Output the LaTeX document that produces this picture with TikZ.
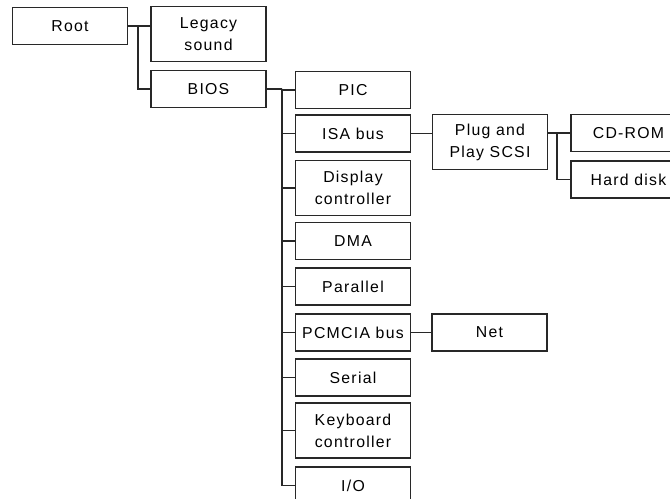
\documentclass[tikz,border=0pt]{standalone}
\usepackage{fontspec}
\usepackage{tikz}
\usetikzlibrary{calc}
\newfontfamily\cajafont[LetterSpace=8]{Liberation Sans}
\definecolor{GrisBorde}{RGB}{40,40,40}

\begin{document}
\begin{tikzpicture}[x=0.02cm,y=-0.02cm,
  caja/.style={draw=GrisBorde,line width=0.8pt,fill=white,minimum width=2.3cm,
    minimum height=0.74cm,inner sep=1pt,align=center,
    font=\cajafont\fontsize{9}{12.5}\selectfont},
  caja2/.style={caja,minimum height=1.1cm},
  linea/.style={draw=GrisBorde,line width=0.8pt}]
  \clip (0,0) rectangle (670,499);

  \node[caja] (root) at (70,26) {Root};
  \node[caja2] (legacy) at (208.5,34) {Legacy\\sound};
  \node[caja] (bios) at (208.5,89) {BIOS};

  \node[caja] (pic) at (353,90) {PIC};
  \node[caja] (isa) at (353,133.5) {ISA bus};
  \node[caja2] (display) at (353,188) {Display\\controller};
  \node[caja] (dma) at (353,241) {DMA};
  \node[caja] (parallel) at (353,286.5) {Parallel};
  \node[caja] (pcmcia) at (353,332.5) {PCMCIA bus};
  \node[caja] (serial) at (353,377.5) {Serial};
  \node[caja2] (keyboard) at (353,430.5) {Keyboard\\controller};
  \node[caja] (io) at (353,485.5) {I/O};

  \node[caja2] (plug) at (490,142) {Plug and\\Play SCSI};
  \node[caja] (cdrom) at (628.5,133) {CD-ROM};
  \node[caja] (hdd) at (628.5,179.5) {Hard disk};
  \node[caja] (net) at (489.5,332.5) {Net};

  % ramas
  \coordinate (busroot) at (138,26);
  \draw[linea] (root.east) -- (root.east -| legacy.west);
  \draw[linea] (busroot) |- (bios.west);

  \coordinate (busbios) at (282,89);
  \draw[linea] (bios.east) -- (busbios);
  \foreach \n in {pic,isa,display,dma,parallel,pcmcia,serial,keyboard,io}
    \draw[linea] (busbios) |- (\n.west);

  \draw[linea] (isa.east) -- (isa.east -| plug.west);
  \coordinate (busplug) at (557,133);
  \draw[linea] (plug.east |- busplug) -- (cdrom.west);
  \draw[linea] (busplug) |- (hdd.west);
  \draw[linea] (pcmcia.east) -- (net.west);
\end{tikzpicture}
\end{document}
